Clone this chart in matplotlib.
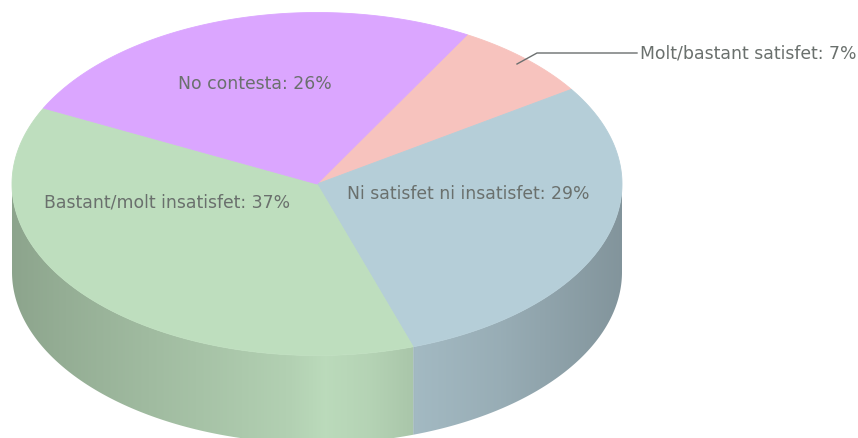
import numpy as np
import matplotlib
matplotlib.use("Agg")
import matplotlib.pyplot as plt
from matplotlib.patches import Polygon
from matplotlib.colors import to_rgb

# data (clockwise from the pink slice)
categories = ["Molt/bastant satisfet", "Ni satisfet ni insatisfet", "Bastant/molt insatisfet", "No contesta"]
shown_pct = [7, 29, 37, 26]
shares = [7.5, 29.2, 37.4, 25.9]
colors = ["#f7c3be", "#b5ced8", "#bedebe", "#dba6ff"]

START = 60.5
CX, CY, RX, RY, DEPTH = 317.0, 185.0, 305.0, 171.5, 88.0

W, H = 858, 439
fig = plt.figure(figsize=(W / 100, H / 100), dpi=100, facecolor="white")
ax = fig.add_axes([0, 0, 1, 1])
ax.set_xlim(0, W)
ax.set_ylim(H, 0)
ax.axis("off")


def pt(a):
    a = np.radians(a)
    return CX + RX * np.cos(a), CY - RY * np.sin(a)


# side shading along x (fraction of the slice colour)
shade_x = [12, 60, 130, 220, 290, 325, 370, 414, 415, 500, 622]
shade_v = [.74, .78, .83, .89, .94, .985, .95, .89, .90, .84, .72]
grad = np.interp(np.arange(0, W), shade_x, shade_v)

edges = START - np.cumsum([0] + shares) * 3.6
for i, c in enumerate(colors):
    a0, a1 = edges[i], edges[i + 1]          # clockwise: a0 > a1
    lo, hi = max(a1, -180), min(a0, 0)       # front-facing part of the rim
    if hi > lo:
        t = np.linspace(hi, lo, 300)
        xs, ys = pt(t)
        side = np.r_[np.c_[xs, ys], np.c_[xs, ys + DEPTH][::-1]]
        poly = Polygon(side, closed=True, fc="none", ec="none")
        ax.add_patch(poly)
        img = grad[None, :, None] * np.array(to_rgb(c))[None, None, :]
        im = ax.imshow(np.clip(img, 0, 1), extent=(0, W, H, 0), aspect="auto", zorder=1, interpolation="bilinear")
        im.set_clip_path(poly)

for i, c in enumerate(colors):
    a0, a1 = edges[i], edges[i + 1]
    t = np.linspace(a0, a1, 300)
    xs, ys = pt(t)
    top = np.r_[[[CX, CY]], np.c_[xs, ys]]
    ax.add_patch(Polygon(top, closed=True, fc=c, ec=c, lw=0.6, zorder=2))

ax.set_xlim(0, W)
ax.set_ylim(H, 0)

font = dict(family="DejaVu Sans", fontsize=12.45, color="#6a706d", va="center", zorder=4)


def label(i):
    return f"{categories[i]}: {shown_pct[i]}%"


ax.text(255, 84, label(3), ha="center", **font)
ax.text(468, 194, label(1), ha="center", **font)
ax.text(167, 203, label(2), ha="center", **font)
ax.text(640, 54, label(0), ha="left", **font)
ax.plot([517, 537, 637], [65, 54, 54], color="#6b6f6f", lw=1.0, zorder=3)

fig.savefig("out.png", dpi=100, facecolor="white")
